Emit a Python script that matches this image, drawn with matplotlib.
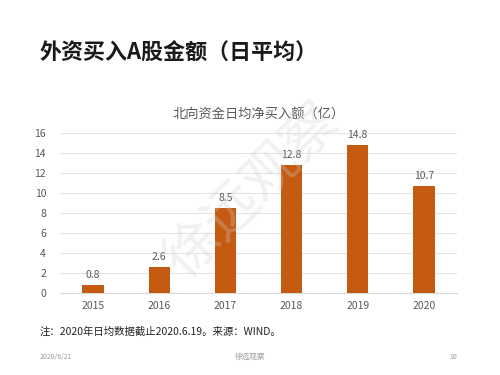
import matplotlib
matplotlib.use('Agg')
import matplotlib.pyplot as plt

plt.rcParams['font.family'] = ['Noto Sans CJK SC', 'DejaVu Sans']

years = ['2015', '2016', '2017', '2018', '2019', '2020']
values = [0.8, 2.6, 8.5, 12.8, 14.8, 10.7]
yticks = [0, 2, 4, 6, 8, 10, 12, 14, 16]

bar_color = '#C55A11'
text_gray = '#595959'

fig = plt.figure(figsize=(5, 3.75), dpi=100)
fig.patch.set_facecolor('white')

# slide title and notes
fig.text(0.08, 0.858, '外资买入A股金额（日平均）', fontsize=15.8, fontweight='bold',
         color='#1a1a1a', va='center', ha='left')
fig.text(0.08, 0.117, '注：2020年日均数据截止2020.6.19。来源：WIND。', fontsize=7.5,
         color='#222222', va='center', ha='left')
fig.text(0.08, 0.048, '2020/6/21', fontsize=5, color='#999999', va='center', ha='left')
fig.text(0.5, 0.048, '徐远观察', fontsize=5.5, color='#999999', va='center', ha='center')
fig.text(0.914, 0.048, '10', fontsize=5, color='#999999', va='center', ha='right')

ax = fig.add_axes([0.12, 0.2187, 0.794, 0.4266])
x = list(range(len(years)))
bars = ax.bar(x, values, width=0.32, color=bar_color, zorder=3)
for xi, v in zip(x, values):
    ax.text(xi, v + 0.5, f'{v:.1f}', ha='center', va='bottom', fontsize=7.5, color=text_gray)

ax.set_xlim(-0.5, len(years) - 0.5)
ax.set_ylim(0, 16)
ax.set_yticks(yticks)
ax.set_xticks(x)
ax.set_xticklabels(years)
ax.tick_params(axis='both', length=0, labelsize=7.5, labelcolor=text_gray)
ax.tick_params(axis='x', pad=6)
ax.tick_params(axis='y', pad=10)
ax.grid(axis='y', color='#e4e4e4', linewidth=0.8, zorder=0)
for side in ['top', 'right', 'left']:
    ax.spines[side].set_visible(False)
ax.spines['bottom'].set_color('#d9d9d9')
ax.set_title('北向资金日均净买入额（亿）', fontsize=9.5, color=text_gray, pad=10)

# watermark
fig.text(0.505, 0.49, '徐远观察', fontsize=40, color='#d0d0d0', alpha=0.3,
         fontweight='light', rotation=45, ha='center', va='center', zorder=5)

fig.savefig('out.png', dpi=100)
